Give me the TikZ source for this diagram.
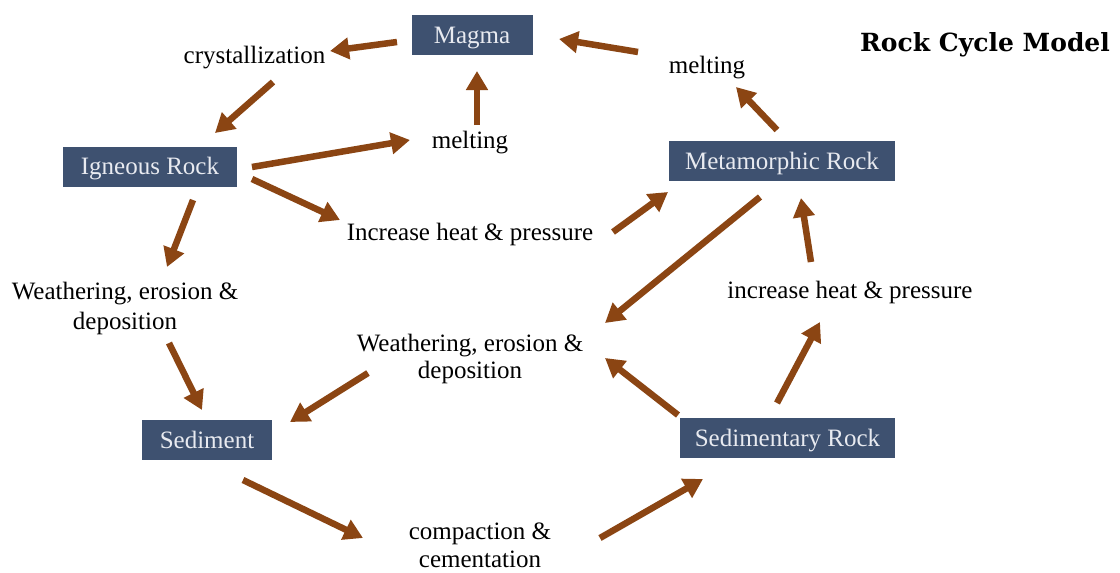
\documentclass[tikz,border=0pt]{standalone}
\usepackage{fontspec}
\setmainfont{Liberation Serif}
\newfontfamily\titlefont{DejaVu Serif}
\usetikzlibrary{arrows.meta}
\definecolor{slate}{RGB}{62,81,112}
\definecolor{rust}{RGB}{139,69,19}
\definecolor{boxtext}{RGB}{232,234,240}
\begin{document}
\begin{tikzpicture}[x=1pt,y=-1pt,
  rock/.style={fill=slate, text=boxtext, minimum height=40pt, inner sep=0pt,
    text height=21pt, text depth=5pt, font=\fontsize{25}{30}\selectfont},
  lbl/.style={inner sep=1pt, align=center, font=\fontsize{25}{30}\selectfont},
  flow/.style={draw=rust, line width=6.5pt, -{Triangle[length=19pt,width=21pt]}}]
\fill[white] (0,0) rectangle (1120,573);
\useasboundingbox (0,0) rectangle (1120,573);
% rocks
\node[rock, minimum width=121pt] (magma) at (472,35) {Magma};
\node[rock, minimum width=174pt] (ig) at (150,166.5) {Igneous Rock};
\node[rock, minimum width=226pt] (meta) at (782,161) {Metamorphic Rock};
\node[rock, minimum width=130pt] (sed) at (207,440) {Sediment};
\node[rock, minimum width=215pt] (sedrock) at (787.5,438) {Sedimentary Rock};
% processes
\node[lbl, anchor=base] (cryst) at (254.5,63) {crystallization};
\node[lbl, anchor=base] (meltA) at (470,148) {melting};
\node[lbl, anchor=base] (meltB) at (707,73) {melting};
\node[lbl, anchor=base] (heatA) at (470,240) {Increase heat \& pressure};
\node[lbl, anchor=base] (heatB) at (850,298) {increase heat \& pressure};
\node[lbl] (weathA) at (125,308) {Weathering, erosion \&\\deposition};
\node[lbl, font=\fontsize{25}{27}\selectfont] (weathB) at (470,359) {Weathering, erosion \&\\deposition};
\node[lbl, font=\fontsize{25}{28}\selectfont] (compact) at (480,545) {compaction \&\\cementation};
\node[anchor=base west, inner sep=0pt, font=\titlefont\bfseries\fontsize{25}{30}\selectfont] (title) at (860,51) {Rock Cycle Model};
% arrows
\draw[flow] ([shift={(-75,7)}]magma.center) -- ([shift={(75.5,-12)}]cryst.base);
\draw[flow] ([shift={(18.5,19)}]cryst.base) -- ([shift={(65,-33.5)}]ig.center);
\draw[flow] ([shift={(7,-23)}]meltA.base) -- ([shift={(5,36)}]magma.center);
\draw[flow] ([shift={(102,0.5)}]ig.center) -- ([shift={(-60,-8)}]meltA.base);
\draw[flow] ([shift={(102,12.5)}]ig.center) -- ([shift={(-130,-20)}]heatA.base);
\draw[flow] ([shift={(143,-8)}]heatA.base) -- ([shift={(-114,31)}]meta.center);
\draw[flow] ([shift={(-5,-31)}]meta.center) -- ([shift={(29,14)}]meltB.base);
\draw[flow] ([shift={(-69,-21)}]meltB.base) -- ([shift={(87,4)}]magma.center);
\draw[flow] ([shift={(43,33.5)}]ig.center) -- ([shift={(42,-41)}]weathA.center);
\draw[flow] ([shift={(44,35)}]weathA.center) -- ([shift={(-5,-30)}]sed.center);
\draw[flow] ([shift={(36,40)}]sed.center) -- ([shift={(-117,-7)}]compact.center);
\draw[flow] ([shift={(120,-7)}]compact.center) -- ([shift={(-84.5,41)}]sedrock.center);
\draw[flow] ([shift={(-10.5,-35)}]sedrock.center) -- ([shift={(-30,24)}]heatB.base);
\draw[flow] ([shift={(-39,-36)}]heatB.base) -- ([shift={(19,37)}]meta.center);
\draw[flow] ([shift={(-22,36)}]meta.center) -- ([shift={(135,-36)}]weathB.center);
\draw[flow] ([shift={(-109.5,-23)}]sedrock.center) -- ([shift={(135,-1)}]weathB.center);
\draw[flow] ([shift={(-102,14)}]weathB.center) -- ([shift={(83,-18)}]sed.center);
\end{tikzpicture}
\end{document}
